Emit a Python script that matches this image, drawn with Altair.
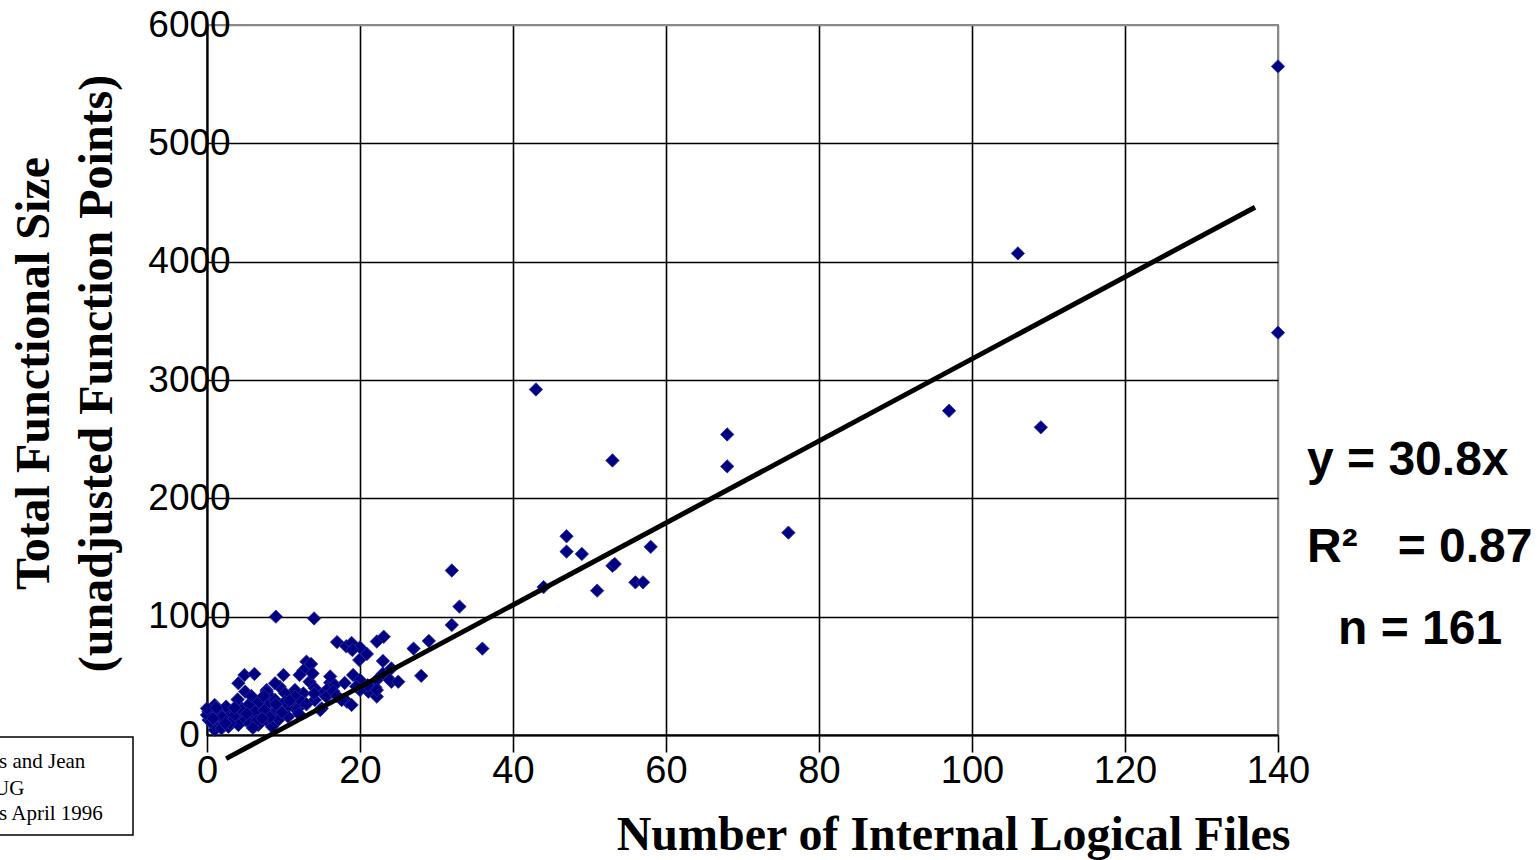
import altair as alt
import pandas as pd

# Number of Internal Logical Files (x) and total unadjusted function points (y)
ilf = [
    140, 106, 140, 97, 109, 43, 68, 53, 68, 76, 47, 47, 49, 58, 53, 53.3, 51, 56, 57, 44,
    32, 33, 32, 36, 29, 27, 28, 9, 14,
    17, 18.2, 18.9, 20, 19, 22.2, 23.1, 20.9, 19.9, 23, 13, 13.2, 13.6, 12.6, 12.1, 10, 9.5,
    7.8, 13.4, 14.1, 16.1, 15.2, 19.1, 20, 24.1, 22, 21.1, 22.2, 18.3, 18.9, 15, 11.7, 11.3,
    24.1, 22.2, 23.9, 25, 22.2, 20, 15.9, 16.7, 14.1, 15.6, 17.6, 12.6, 11.1, 14.8, 16.1,
    4.9, 6.2, 4.1, 5, 8.9, 7.8, 10.2, 11.5, 8.5, 6.1, 7.1, 5.4, 4.1, 2.8, 1.0, 0.2, 0.2, 1.0,
    2.1, 3.2, 4.1, 5, 6.1, 7.1, 8.5, 9.3, 10.6, 10.6, 9.3, 11.9, 1, 1.9, 2.8, 4.1, 5.6, 6.7,
    8, 0, 0, 1.7, 3.7, 6.3, 7.8, 8.9, 10.2, 11.5, 12.4, 8.5,
    0.5, 1.5, 2.5, 3.5, 4.5, 5.5, 6.5, 7.5, 8.2, 9.8, 3, 2, 4, 5.8, 6.8, 7.4, 9, 10.8, 0.8,
    1.2, 2.4, 3.6, 5.2, 6, 7.2, 12, 13, 14, 16.5, 17, 19.5, 21, 13.8, 23, 18,
]
fp = [
    5650, 4070, 3400, 2740, 2600, 2920, 2540, 2320, 2270, 1710, 1680, 1550, 1530, 1590, 1430,
    1445, 1220, 1290, 1290, 1250, 1390, 1085, 930, 730, 795, 730, 500, 1000, 985,
    785, 750, 778, 740, 718, 790, 830, 685, 634, 625, 620, 577, 600, 545, 507, 507, 408,
    380, 450, 395, 442, 352, 507, 465, 450, 403, 366, 324, 281, 254, 225, 296, 239,
    563, 465, 465, 450, 380, 380, 395, 423, 296, 324, 296, 352, 324, 211, 495,
    507, 516, 437, 366, 437, 366, 352, 380, 310, 296, 239, 225, 254, 197, 254, 197, 127, 85,
    127, 127, 155, 127, 155, 169, 183, 211, 239, 155, 127, 225, 42, 56, 70, 85, 99, 85,
    112, 169, 225, 169, 197, 197, 254, 296, 282, 324, 282, 70,
    110, 190, 240, 160, 210, 260, 120, 210, 150, 190, 100, 150, 300, 330, 280, 330, 260, 290,
    140, 230, 100, 230, 180, 60, 140, 180, 260, 350, 370, 330, 410, 420, 520, 520, 440,
]

# Fitted line as drawn in the figure (end points)
fit_x = [2.5, 137]
fit_y = [-200, 4460]

x_ticks = [0, 20, 40, 60, 80, 100, 120, 140]
y_ticks = [0, 1000, 2000, 3000, 4000, 5000, 6000]

stat_eq = ["y = 30.8x"]
stat_r2 = ["R\u00b2\u00a0\u00a0\u00a0= 0.87"]
stat_n = ["n = 161"]
credit_1 = ["s and Jean"]
credit_2 = ["UG"]
credit_3 = ["s April 1996"]

pts = pd.DataFrame({"ilf": ilf, "fp": fp})
fit = pd.DataFrame({"ilf": fit_x, "fp": fit_y})

x_scale = alt.Scale(domain=[0, 140], nice=False, zero=False)
y_scale = alt.Scale(domain=[0, 6000], nice=False, zero=False)

x_axis = alt.Axis(
    values=x_ticks,
    format="d",
    grid=True,
    gridColor={"condition": {"test": "datum.value === 140", "value": "#888888"}, "value": "black"},
    gridWidth=1.6,
    domainColor="black",
    domainWidth=2,
    ticks=True,
    tickColor="black",
    tickSize=17,
    tickWidth=1.6,
    labelFont="Liberation Sans",
    labelFontSize=38,
    labelColor="black",
    labelPadding=0,
    labelFlush=False,
    labelOverlap=False,
    title="Number of Internal Logical Files",
    titleFont="Liberation Serif",
    titleFontSize=48,
    titleFontWeight="bold",
    titleColor="black",
    titleX=746,
    titleY=114,
    titleAlign="center",
    titleBaseline="alphabetic",
)

y_axis = alt.Axis(
    values=y_ticks,
    format="d",
    grid=True,
    gridColor={"condition": {"test": "datum.value === 6000", "value": "#888888"}, "value": "black"},
    gridWidth=1.6,
    domainColor="black",
    domainWidth=2,
    ticks=False,
    labelFont="Liberation Sans",
    labelFontSize=37,
    labelColor="black",
    labelAlign="center",
    labelBaseline="middle",
    labelPadding=18,
    labelFlush=False,
    labelOverlap=False,
    title=["Total Functional Size", "(unadjusted Function Points)"],
    titleFont="Liberation Serif",
    titleFontSize=48,
    titleFontWeight="bold",
    titleColor="black",
    titleLineHeight=63,
    titleX=-173,
    titleY=348,
    titleAngle=-90,
    titleAlign="center",
    titleBaseline="middle",
)

points = alt.Chart(pts).mark_point(
    shape="diamond", filled=True, size=180, fill="#000080", stroke="#2a2aa8",
    strokeWidth=0.8, opacity=1,
).encode(
    x=alt.X("ilf:Q", scale=x_scale, axis=x_axis),
    y=alt.Y("fp:Q", scale=y_scale, axis=y_axis),
)

line = alt.Chart(fit).mark_line(color="black", strokeWidth=5, clip=False).encode(
    x=alt.X("ilf:Q", scale=x_scale),
    y=alt.Y("fp:Q", scale=y_scale),
)


def label(lines, x, y, font, size, weight, align="left"):
    return alt.Chart(pd.DataFrame({"t": lines})).mark_text(
        font=font, fontSize=size, fontWeight=weight, color="black",
        align=align, baseline="alphabetic",
    ).encode(x=alt.value(x), y=alt.value(y), text="t:N")


eq = label(stat_eq, 1100, 450, "Liberation Sans", 48, "bold")
r2 = label(stat_r2, 1100, 537, "Liberation Sans", 48, "bold")
nn = label(stat_n, 1131, 619, "Liberation Sans", 48, "bold")

box = alt.Chart(pd.DataFrame({"t": ["box"]})).mark_rect(
    fill="white", stroke="black", strokeWidth=1.5
).encode(x=alt.value(-240), x2=alt.value(-74), y=alt.value(712), y2=alt.value(810))

c1 = label(credit_1, -208, 743, "Liberation Serif", 21, "normal")
c2 = label(credit_2, -213, 770, "Liberation Serif", 21, "normal")
c3 = label(credit_3, -208, 795, "Liberation Serif", 21, "normal")

chart = alt.layer(points, line, eq, r2, nn, box, c1, c2, c3).properties(
    width=1071,
    height=710,
    autosize=alt.AutoSizeParams(type="none"),
    padding={"left": 207, "top": 25, "right": 261, "bottom": 125},
    background="white",
).configure_view(stroke="#888888", strokeWidth=2)

chart.save("out.html", embed_options={"renderer": "svg", "actions": False})
